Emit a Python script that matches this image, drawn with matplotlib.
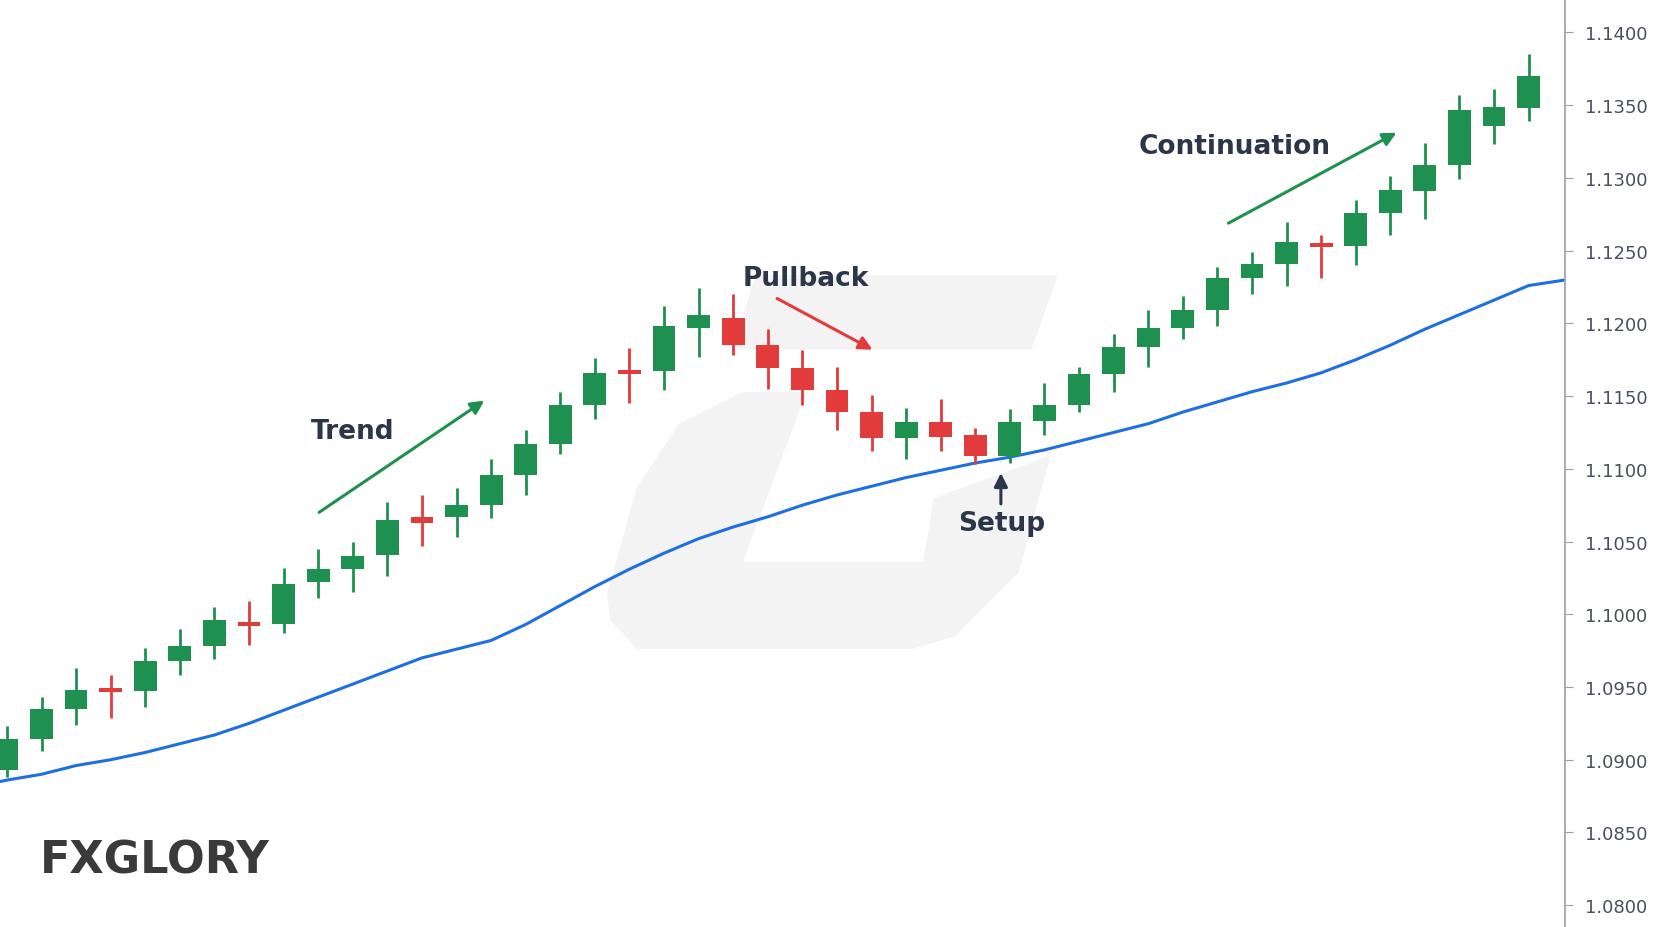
import matplotlib
matplotlib.use("Agg")
import matplotlib.pyplot as plt
from matplotlib.patches import Polygon

opens  = [1.0893,1.0914,1.0935,1.0949,1.0947,1.0968,1.0978,1.0995,1.0993,1.1022,1.1031,1.1041,1.1067,1.1067,1.1075,
          1.1096,1.1117,1.1144,1.1168,1.1167,1.1197,1.1204,1.1185,1.1169,1.1154,1.1139,1.1121,1.1132,1.1123,1.1109,
          1.1133,1.1144,1.1165,1.1184,1.1197,1.1209,1.1231,1.1241,1.1255,1.1253,1.1276,1.1291,1.1309,1.1336,1.1348]
closes = [1.0914,1.0935,1.0948,1.0947,1.0968,1.0978,1.0996,1.0992,1.1021,1.1031,1.1040,1.1065,1.1063,1.1075,1.1096,
          1.1117,1.1144,1.1166,1.1165,1.1198,1.1206,1.1185,1.1169,1.1154,1.1139,1.1121,1.1132,1.1122,1.1109,1.1132,
          1.1144,1.1165,1.1184,1.1197,1.1209,1.1231,1.1241,1.1256,1.1253,1.1276,1.1292,1.1309,1.1347,1.1349,1.1370]
highs  = [1.0923,1.0943,1.0963,1.0958,1.0977,1.0990,1.1005,1.1009,1.1032,1.1045,1.1050,1.1077,1.1082,1.1087,1.1107,
          1.1127,1.1153,1.1176,1.1183,1.1212,1.1224,1.1220,1.1196,1.1182,1.1170,1.1151,1.1142,1.1148,1.1128,1.1141,
          1.1159,1.1170,1.1193,1.1209,1.1219,1.1239,1.1249,1.1270,1.1261,1.1285,1.1301,1.1324,1.1357,1.1361,1.1385]
lows   = [1.0888,1.0906,1.0924,1.0929,1.0936,1.0958,1.0969,1.0979,1.0987,1.1011,1.1015,1.1026,1.1047,1.1053,1.1066,
          1.1082,1.1110,1.1134,1.1145,1.1154,1.1177,1.1178,1.1155,1.1144,1.1127,1.1112,1.1107,1.1112,1.1103,1.1104,
          1.1123,1.1139,1.1153,1.1170,1.1189,1.1198,1.1220,1.1226,1.1231,1.1240,1.1261,1.1272,1.1299,1.1323,1.1339]
ma_x = [-0.2] + list(range(45)) + [45.1]
ma   = [1.0885,1.0886,1.0890,1.0896,1.0900,1.0905,1.0911,1.0917,1.0925,1.0934,1.0943,1.0952,1.0961,1.0970,1.0976,1.0982,
        1.0993,1.1006,1.1019,1.1031,1.1042,1.1052,1.1060,1.1067,1.1075,1.1082,1.1088,1.1094,1.1099,1.1104,1.1108,
        1.1113,1.1119,1.1125,1.1131,1.1139,1.1146,1.1153,1.1159,1.1166,1.1175,1.1185,1.1196,1.1206,1.1216,1.1226,1.1230]
yticks = [1.0800,1.0850,1.0900,1.0950,1.1000,1.1050,1.1100,1.1150,1.1200,1.1250,1.1300,1.1350,1.1400]

GREEN, RED, BLUE, NAVY = "#1e9150", "#e23b3b", "#1f6fe0", "#2b3648"

fig = plt.figure(figsize=(16.64, 9.28), dpi=100)
fig.patch.set_facecolor("white")
W, H = 1568.0, 874.0
def fp(pts):
    return [(x / W, 1 - y / H) for x, y in pts]
wm = dict(closed=True, transform=fig.transFigure, facecolor="#f3f3f3", edgecolor="none", zorder=-10)
fig.patches.append(Polygon(fp([(712,260),(997,260),(972,330),(690,330)]), **wm))
fig.patches.append(Polygon(fp([(700,370),(760,370),(700,530),(870,530),(880,470),(990,430),(960,540),
                               (900,600),(860,612),(600,612),(575,585),(572,560),(600,460),(640,400)]), **wm))

ax = fig.add_axes([0, 0, 1475 / W, 1])
ax.set_zorder(5)
ax.set_facecolor("none")
for i in range(len(opens)):
    o, c = opens[i], closes[i]
    col = GREEN if c >= o else RED
    ax.vlines(i, lows[i], highs[i], color=col, lw=2, zorder=3)
    lo, hi = min(o, c), max(o, c)
    ax.bar(i, max(hi - lo, 0.00025), bottom=lo if hi - lo >= 0.00025 else (lo + hi) / 2 - 0.000125,
           width=0.66, color=col, zorder=4)
ax.plot(ma_x, ma, color=BLUE, lw=2.2, zorder=2)

ax.set_xlim(-0.2, 45.06)
ax.set_ylim(1.0785, 1.1423)
ax.yaxis.tick_right()
ax.set_yticks(yticks)
ax.set_yticklabels([f"{v:.4f}" for v in yticks])
ax.tick_params(axis="y", colors="#4a5060", labelsize=13, length=6, direction="out", color="#9aa0a8", pad=8)
ax.set_xticks([])
for s in ["left", "top", "bottom"]:
    ax.spines[s].set_visible(False)
ax.spines["right"].set_color("#9aa0a8")
ax.spines["right"].set_linewidth(1.2)

tk = dict(color=NAVY, fontsize=19, fontweight="semibold", ha="center", va="center", zorder=6)
ax.text(10.0, 1.1126, "Trend", **tk)
ax.text(23.1, 1.1231, "Pullback", **tk)
ax.text(35.5, 1.1322, "Continuation", **tk)
ax.text(28.75, 1.1063, "Setup", **tk)
def arr(x0, y0, x1, y1, col):
    ax.annotate("", xy=(x1, y1), xytext=(x0, y0),
                arrowprops=dict(arrowstyle="-|>", color=col, lw=2.2, mutation_scale=20), zorder=6)
arr(8.96, 1.1069, 13.87, 1.1148, GREEN)
arr(22.2, 1.1218, 25.1, 1.1181, RED)
arr(35.25, 1.1268, 40.25, 1.1332, GREEN)
arr(28.74, 1.1074, 28.74, 1.1099, NAVY)

fig.text(38 / W, 1 - 811 / H, "FXGLORY", color="#3a3a3a", fontsize=32, fontweight="bold",
         ha="left", va="center", family="DejaVu Sans")
fig.savefig("out.png", dpi=100)
